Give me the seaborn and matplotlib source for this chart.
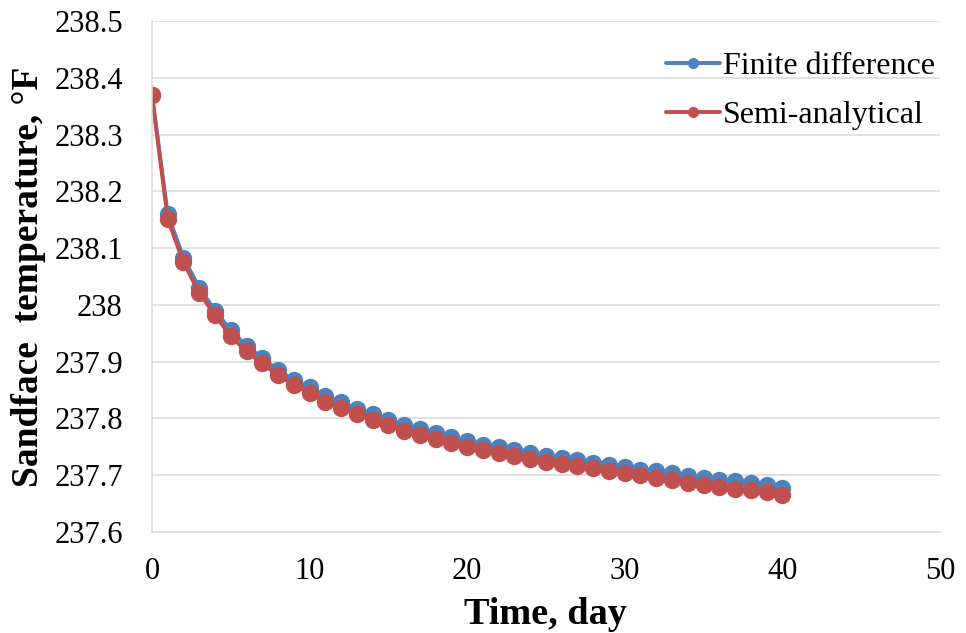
import numpy as np
import pandas as pd
import seaborn as sns
import matplotlib.pyplot as plt
from matplotlib.lines import Line2D
from matplotlib.ticker import FuncFormatter

# Time axis (days) and sandface temperature (°F) for the two solution methods
days = list(range(41))
finite_difference = [
    238.370, 238.160, 238.083, 238.030, 237.990, 237.955, 237.928, 237.906,
    237.885, 237.868, 237.855, 237.840, 237.829, 237.817, 237.807, 237.798,
    237.789, 237.781, 237.774, 237.767, 237.760, 237.754, 237.749, 237.744,
    237.739, 237.734, 237.730, 237.726, 237.722, 237.718, 237.714, 237.710,
    237.707, 237.703, 237.699, 237.695, 237.692, 237.689, 237.686, 237.682,
    237.678,
]
semi_analytical = [
    238.370, 238.151, 238.075, 238.021, 237.982, 237.945, 237.918, 237.897,
    237.876, 237.859, 237.845, 237.829, 237.819, 237.807, 237.797, 237.788,
    237.778, 237.771, 237.764, 237.757, 237.750, 237.744, 237.739, 237.734,
    237.728, 237.724, 237.720, 237.716, 237.712, 237.708, 237.704, 237.700,
    237.695, 237.691, 237.687, 237.683, 237.680, 237.676, 237.674, 237.670,
    237.666,
]
series_names = ["Finite difference", "Semi-analytical"]
series_colors = ["#4F81BD", "#C0504D"]
y_ticks = [237.6, 237.7, 237.8, 237.9, 238.0, 238.1, 238.2, 238.3, 238.4, 238.5]
x_ticks = [0, 10, 20, 30, 40, 50]

df = pd.DataFrame({
    "day": days * 2,
    "temp": finite_difference + semi_analytical,
    "series": [series_names[0]] * len(days) + [series_names[1]] * len(days),
})

sns.set_theme(style="white")
plt.rcParams["font.family"] = ["Liberation Serif", "DejaVu Serif"]
plt.rcParams["text.color"] = "black"
plt.rcParams["axes.labelcolor"] = "black"

fig = plt.figure(figsize=(9.66, 6.33), dpi=100)
ax = fig.add_axes([0.1573, 0.1596, 0.8157, 0.8072])

sns.lineplot(
    data=df, x="day", y="temp", hue="series", hue_order=series_names,
    palette=series_colors, marker="o", markersize=12.5, markeredgewidth=0,
    linewidth=2.8, legend=False, ax=ax,
)

grid_color = "#d9d9d9"
ax.set_xlim(0, 50)
ax.set_ylim(237.6, 238.5)
ax.set_xticks(x_ticks)
ax.set_yticks(y_ticks)
ax.yaxis.set_major_formatter(FuncFormatter(lambda v, _: f"{round(v, 1):g}"))
ax.grid(axis="y", color=grid_color, linewidth=1.1)
ax.grid(axis="x", visible=False)
ax.set_axisbelow(True)
for side in ["top", "right"]:
    ax.spines[side].set_visible(False)
for side in ["left", "bottom"]:
    ax.spines[side].set_color(grid_color)
    ax.spines[side].set_linewidth(1.1)

ax.tick_params(axis="both", length=0, labelsize=22, labelcolor="black")
ax.tick_params(axis="y", pad=21)
ax.tick_params(axis="x", pad=18)

ax.set_xlabel("Time, day", fontsize=27.5, fontweight="bold", labelpad=8, color="black")
ax.set_ylabel("Sandface  temperature, °F", fontsize=27, fontweight="bold", labelpad=6,
              color="black")

handles = [
    Line2D([0], [0], color=c, linewidth=2.8, marker="o", markersize=8, markeredgewidth=0)
    for c in series_colors
]
fig.legend(
    handles, series_names, loc="upper left", bbox_to_anchor=(0.6894, 0.918),
    frameon=False, fontsize=23, handlelength=1.7, handletextpad=0.08,
    labelspacing=0.62, borderpad=0, borderaxespad=0, labelcolor="black",
)

fig.savefig("out.png", dpi=100)
